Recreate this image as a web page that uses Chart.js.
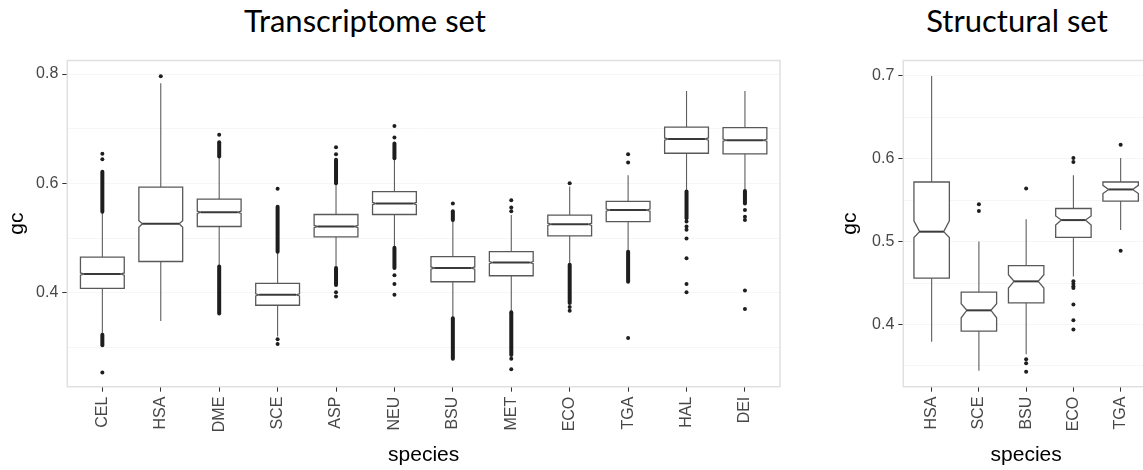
<!DOCTYPE html>
<html>
<head>
<meta charset="utf-8">
<title>gc by species</title>
<script src="https://cdn.jsdelivr.net/npm/chart.js@4.4.1/dist/chart.umd.min.js"></script>
<style>
  html, body { margin: 0; padding: 0; background: #fff; overflow: hidden; }
  #wrap { position: relative; width: 1143px; height: 470px; overflow: hidden; }
  canvas { position: absolute; top: 0; }
  .panel-title {
    position: absolute; top: 5px; text-align: center;
    font-family: Lato, "Open Sans", sans-serif; font-size: 31px; line-height: 31px; color: #000;
  }
</style>
</head>
<body>
<div id="wrap">
  <div class="panel-title" style="left:215px; width:300px;">Transcriptome set</div>
  <div class="panel-title" style="left:917px; width:200px;">Structural set</div>
  <canvas id="transcriptome" width="800" height="470" style="left:0"></canvas>
  <canvas id="structural" width="370" height="470" style="left:790px"></canvas>
</div>
<script>
// ---- Transcriptome set ----
const transcriptSpecies = ["CEL", "HSA", "DME", "SCE", "ASP", "NEU", "BSU", "MET", "ECO", "TGA", "HAL", "DEI"];
const transcriptWhiskerLow = [0.323, 0.348, 0.448, 0.320, 0.445, 0.482, 0.353, 0.364, 0.451, 0.475, 0.585, 0.586];
const transcriptQ1 = [0.408, 0.457, 0.521, 0.377, 0.502, 0.543, 0.420, 0.431, 0.504, 0.530, 0.655, 0.654];
const transcriptMedian = [0.434, 0.526, 0.547, 0.396, 0.521, 0.563, 0.445, 0.455, 0.525, 0.551, 0.681, 0.679];
const transcriptQ3 = [0.465, 0.593, 0.571, 0.417, 0.543, 0.585, 0.466, 0.475, 0.542, 0.567, 0.703, 0.702];
const transcriptWhiskerHigh = [0.548, 0.783, 0.649, 0.475, 0.600, 0.646, 0.533, 0.542, 0.594, 0.615, 0.769, 0.769];
const transcriptNotchLow = [0.432, 0.5195, 0.545, 0.394, 0.519, 0.561, 0.443, 0.453, 0.523, 0.549, 0.679, 0.677];
const transcriptNotchHigh = [0.436, 0.5317, 0.549, 0.398, 0.523, 0.565, 0.447, 0.457, 0.527, 0.553, 0.683, 0.681];
// single outliers per species
const transcriptOutliers = [
  [0.644, 0.654, 0.254],
  [0.796],
  [0.689],
  [0.590, 0.315, 0.306],
  [0.653, 0.666, 0.401, 0.393],
  [0.684, 0.705, 0.432, 0.416, 0.396],
  [0.563],
  [0.549, 0.556, 0.569, 0.279, 0.260],
  [0.600, 0.374, 0.367],
  [0.638, 0.653, 0.317],
  [0.530, 0.521, 0.515, 0.499, 0.463, 0.416, 0.401],
  [0.551, 0.539, 0.533, 0.404, 0.370]
];
// stretches where outliers overlap into a solid run: [from, to]
const transcriptOutlierRuns = [
  [[0.548, 0.621], [0.304, 0.323]],
  [],
  [[0.649, 0.675], [0.362, 0.448]],
  [[0.475, 0.557]],
  [[0.600, 0.643], [0.414, 0.445]],
  [[0.646, 0.673], [0.445, 0.482]],
  [[0.533, 0.549], [0.279, 0.353]],
  [[0.286, 0.364]],
  [[0.381, 0.451]],
  [[0.420, 0.475]],
  [[0.536, 0.585]],
  [[0.563, 0.586]]
];
const transcriptMajorTicks = [0.4, 0.6, 0.8];
const transcriptMinorTicks = [0.3, 0.5, 0.7];
const transcriptRange = [0.228, 0.8247];

// ---- Structural set ----
const structuralSpecies = ["HSA", "SCE", "BSU", "ECO", "TGA"];
const structuralWhiskerLow = [0.379, 0.344, 0.364, 0.458, 0.514];
const structuralQ1 = [0.456, 0.392, 0.426, 0.505, 0.549];
const structuralMedian = [0.512, 0.417, 0.452, 0.526, 0.563];
const structuralQ3 = [0.572, 0.439, 0.471, 0.540, 0.572];
const structuralWhiskerHigh = [0.700, 0.500, 0.527, 0.580, 0.601];
const structuralNotchLow = [0.505, 0.408, 0.444, 0.520, 0.558];
const structuralNotchHigh = [0.525, 0.425, 0.460, 0.531, 0.568];
const structuralOutliers = [
  [],
  [0.545, 0.537],
  [0.564, 0.358, 0.353, 0.343],
  [0.601, 0.596, 0.452, 0.449, 0.446, 0.444, 0.424, 0.405, 0.394],
  [0.617, 0.489]
];
const structuralOutlierRuns = [[], [], [], [], []];
const structuralMajorTicks = [0.4, 0.5, 0.6, 0.7];
const structuralMinorTicks = [0.35, 0.45, 0.55, 0.65];
const structuralRange = [0.3248, 0.7187];

function makeBoxPlugin(stats, notchInset) {
  return {
    id: "boxes",
    beforeDatasetsDraw(chart) {
      const { ctx, chartArea, scales } = chart;
      const x = scales.x;
      const y = scales.y;
      ctx.save();
      ctx.strokeStyle = "#e0e0e0";
      ctx.lineWidth = 1.5;
      ctx.strokeRect(chartArea.left, chartArea.top, chartArea.width, chartArea.height);

      const half = x.getPixelForValue(0.375) - x.getPixelForValue(0);
      const inset = half * 2 * notchInset;
      stats.median.forEach((median, i) => {
        const cx = x.getPixelForValue(i);
        const left = cx - half;
        const right = cx + half;
        const yQ1 = y.getPixelForValue(stats.q1[i]);
        const yQ3 = y.getPixelForValue(stats.q3[i]);
        const yMed = y.getPixelForValue(median);
        const yNotchLo = y.getPixelForValue(stats.notchLow[i]);
        const yNotchHi = y.getPixelForValue(stats.notchHigh[i]);

        // whiskers
        ctx.strokeStyle = "#5e5e5e";
        ctx.lineWidth = 1.1;
        ctx.beginPath();
        ctx.moveTo(cx, yQ3);
        ctx.lineTo(cx, y.getPixelForValue(stats.whiskerHigh[i]));
        ctx.moveTo(cx, yQ1);
        ctx.lineTo(cx, y.getPixelForValue(stats.whiskerLow[i]));
        ctx.stroke();

        // notched box
        ctx.strokeStyle = "#595959";
        ctx.lineWidth = 1.3;
        ctx.beginPath();
        ctx.moveTo(left, yQ3);
        ctx.lineTo(right, yQ3);
        ctx.lineTo(right, yNotchHi);
        ctx.lineTo(right - inset, yMed);
        ctx.lineTo(right, yNotchLo);
        ctx.lineTo(right, yQ1);
        ctx.lineTo(left, yQ1);
        ctx.lineTo(left, yNotchLo);
        ctx.lineTo(left + inset, yMed);
        ctx.lineTo(left, yNotchHi);
        ctx.closePath();
        ctx.fillStyle = "#ffffff";
        ctx.fill();
        ctx.stroke();

        // median
        ctx.strokeStyle = "#3a3a3a";
        ctx.lineWidth = 2;
        ctx.beginPath();
        ctx.moveTo(left + inset, yMed);
        ctx.lineTo(right - inset, yMed);
        ctx.stroke();

        // dense outlier runs
        ctx.strokeStyle = "#1e1e1e";
        ctx.lineWidth = 4;
        ctx.lineCap = "round";
        stats.runs[i].forEach(([from, to]) => {
          ctx.beginPath();
          ctx.moveTo(cx, y.getPixelForValue(from));
          ctx.lineTo(cx, y.getPixelForValue(to));
          ctx.stroke();
        });
        ctx.lineCap = "butt";
      });
      ctx.restore();
    }
  };
}

function outlierPoints(outliers) {
  const points = [];
  outliers.forEach((values, i) => {
    values.forEach((v) => points.push({ x: i, y: v }));
  });
  return points;
}

function isAmong(value, list) {
  return list.some((t) => Math.abs(t - value) < 1e-9);
}

function buildChart(canvasId, cfg) {
  const majors = cfg.majorTicks;
  const allTicks = [...cfg.minorTicks, ...majors].sort((a, b) => a - b);
  return new Chart(document.getElementById(canvasId), {
    type: "scatter",
    data: {
      datasets: [{
        data: outlierPoints(cfg.outliers),
        pointRadius: 2,
        pointHoverRadius: 2,
        backgroundColor: "#1e1e1e",
        borderWidth: 0
      }]
    },
    options: {
      responsive: false,
      animation: false,
      events: [],
      layout: { padding: cfg.padding },
      plugins: { legend: { display: false }, tooltip: { enabled: false }, title: { display: false } },
      scales: {
        x: {
          type: "linear",
          min: -0.6,
          max: cfg.species.length - 0.4,
          afterBuildTicks: (scale) => {
            scale.ticks = cfg.species.map((_, i) => ({ value: i }));
          },
          afterFit: (scale) => { scale.height = 83.3; },
          grid: { color: "transparent", drawTicks: true, tickLength: 5, tickColor: "#333333", tickWidth: 1 },
          border: { display: false },
          ticks: {
            minRotation: 90,
            maxRotation: 90,
            autoSkip: false,
            padding: 5,
            color: "#474747",
            font: { family: "'Liberation Sans', Arial, sans-serif", size: 16 },
            callback: (value) => cfg.species[value]
          },
          title: {
            display: true,
            text: "species",
            color: "#000",
            padding: { top: 0, bottom: 2 },
            font: { family: "'Liberation Sans', Arial, sans-serif", size: 21 }
          }
        },
        y: {
          type: "linear",
          min: cfg.range[0],
          max: cfg.range[1],
          afterBuildTicks: (scale) => {
            scale.ticks = allTicks.map((v) => ({ value: v }));
          },
          afterFit: (scale) => { scale.width = cfg.yWidth; },
          grid: {
            color: "#f6f6f6",
            lineWidth: 1,
            drawTicks: true,
            tickLength: 5,
            tickWidth: 1,
            tickColor: (ctx) => (isAmong(ctx.tick.value, majors) ? "#333333" : "transparent")
          },
          border: { display: false },
          ticks: {
            autoSkip: false,
            padding: 4,
            color: "#474747",
            font: { family: "'Liberation Sans', Arial, sans-serif", size: 16 },
            callback: (value) => (isAmong(value, majors) ? value.toFixed(1) : "")
          },
          title: {
            display: true,
            text: "gc",
            color: "#000",
            padding: { top: cfg.yTitleGap, bottom: 0 },
            font: { family: "'Liberation Sans', Arial, sans-serif", size: 21 }
          }
        }
      }
    },
    plugins: [makeBoxPlugin(cfg.stats, cfg.notchInset)]
  });
}

buildChart("transcriptome", {
  species: transcriptSpecies,
  outliers: transcriptOutliers,
  majorTicks: transcriptMajorTicks,
  minorTicks: transcriptMinorTicks,
  range: transcriptRange,
  padding: { top: 60.5, right: 20, left: 0, bottom: 0 },
  yWidth: 67.3,
  yTitleGap: 5,
  notchInset: 0.08,
  stats: {
    whiskerLow: transcriptWhiskerLow,
    q1: transcriptQ1,
    median: transcriptMedian,
    q3: transcriptQ3,
    whiskerHigh: transcriptWhiskerHigh,
    notchLow: transcriptNotchLow,
    notchHigh: transcriptNotchHigh,
    runs: transcriptOutlierRuns
  }
});

buildChart("structural", {
  species: structuralSpecies,
  outliers: structuralOutliers,
  majorTicks: structuralMajorTicks,
  minorTicks: structuralMinorTicks,
  range: structuralRange,
  padding: { top: 60.5, right: 11, left: 0, bottom: 0 },
  yWidth: 113.3,
  yTitleGap: 48,
  notchInset: 0.16,
  stats: {
    whiskerLow: structuralWhiskerLow,
    q1: structuralQ1,
    median: structuralMedian,
    q3: structuralQ3,
    whiskerHigh: structuralWhiskerHigh,
    notchLow: structuralNotchLow,
    notchHigh: structuralNotchHigh,
    runs: structuralOutlierRuns
  }
});
</script>
</body>
</html>
